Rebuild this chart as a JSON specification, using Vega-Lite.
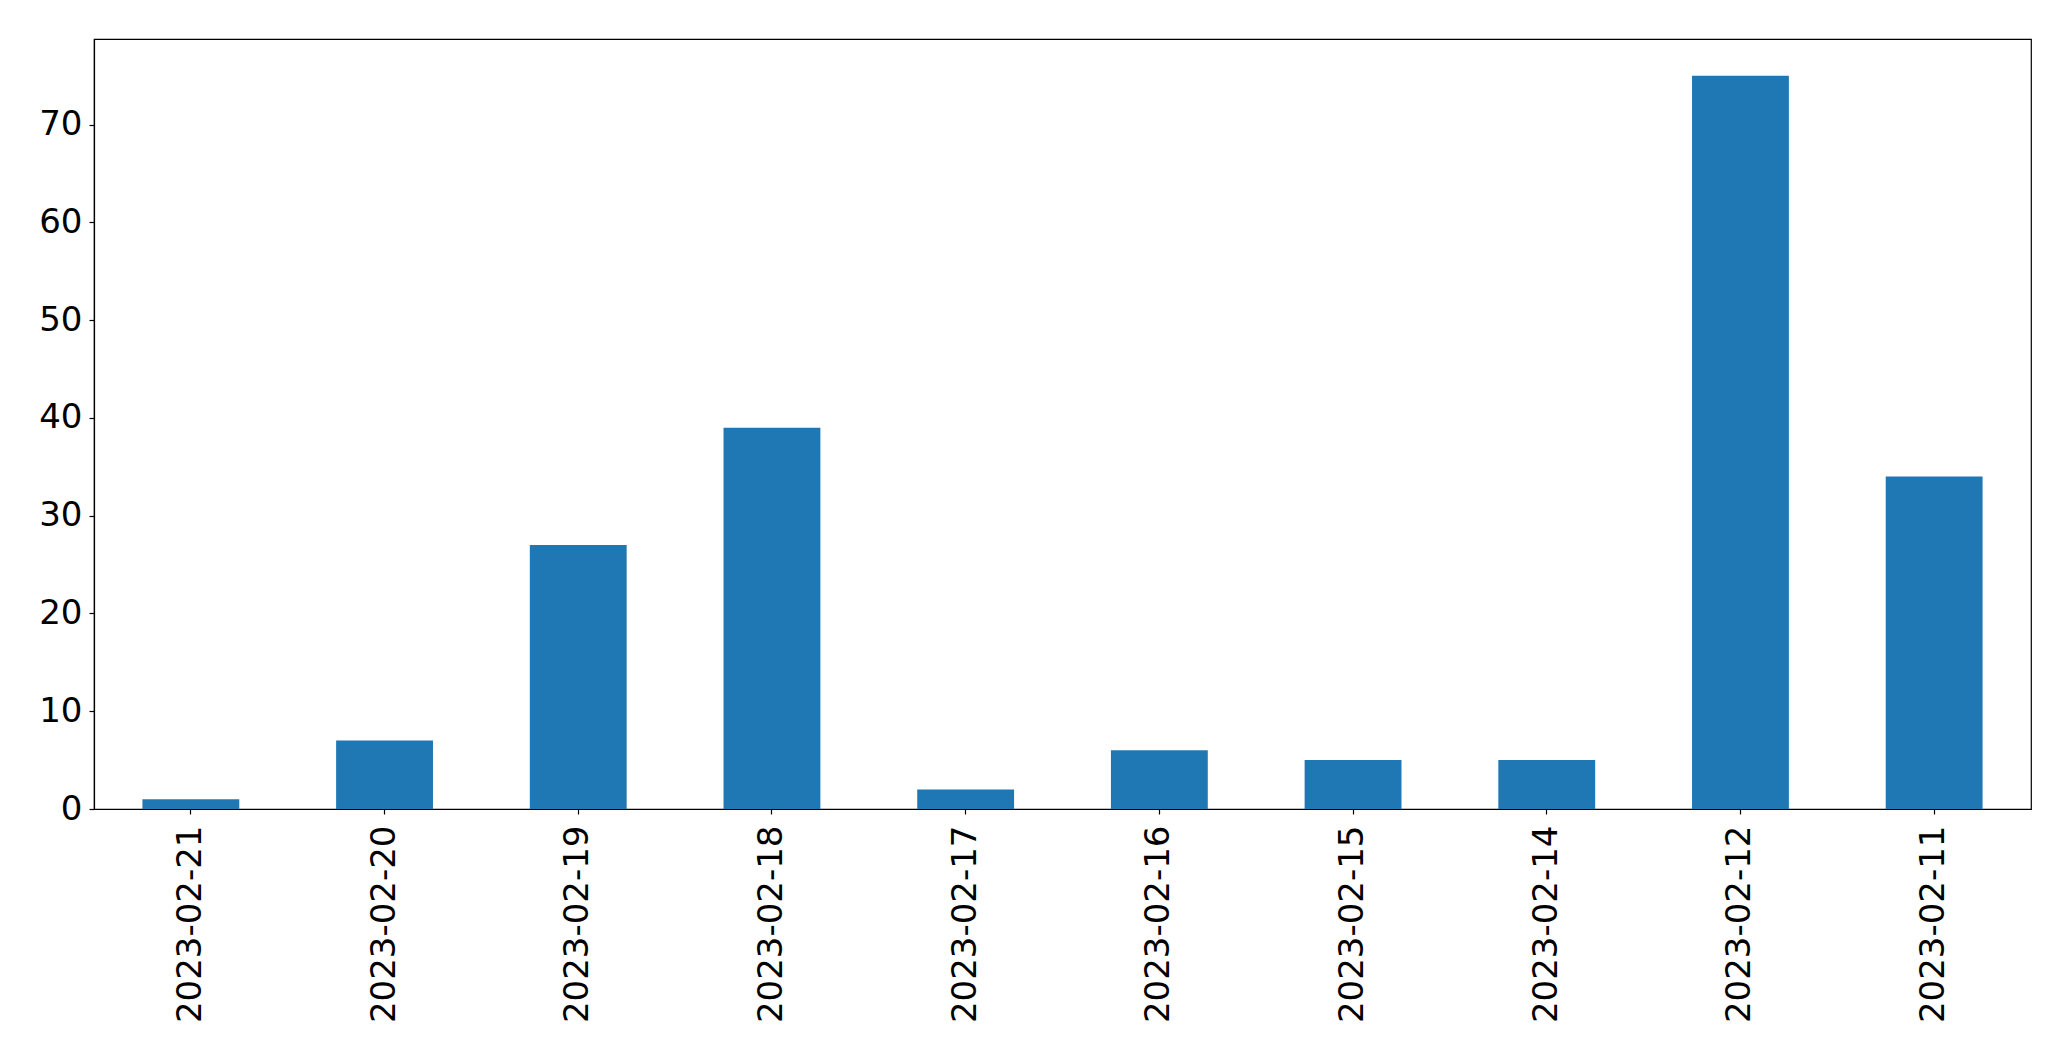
{
  "$schema": "https://vega.github.io/schema/vega-lite/v6.json",
  "autosize": "none",
  "width": 1937,
  "height": 770,
  "padding": {"left": 94, "top": 39, "right": 40, "bottom": 252},
  "background": "white",
  "data": {
    "values": [
      {"date": "2023-02-21", "count": 1},
      {"date": "2023-02-20", "count": 7},
      {"date": "2023-02-19", "count": 27},
      {"date": "2023-02-18", "count": 39},
      {"date": "2023-02-17", "count": 2},
      {"date": "2023-02-16", "count": 6},
      {"date": "2023-02-15", "count": 5},
      {"date": "2023-02-14", "count": 5},
      {"date": "2023-02-12", "count": 75},
      {"date": "2023-02-11", "count": 34}
    ]
  },
  "config": {
    "view": {"stroke": "black", "strokeWidth": 1.2},
    "axis": {
      "labelFont": "DejaVu Sans",
      "labelFontSize": 34,
      "labelColor": "black",
      "labelLimit": 0,
      "tickColor": "black",
      "tickSize": 5,
      "tickWidth": 1.2,
      "domainColor": "black",
      "domainWidth": 1.2,
      "grid": false,
      "title": null
    }
  },
  "mark": {"type": "bar", "color": "#1f77b4"},
  "encoding": {
    "x": {
      "field": "date",
      "type": "nominal",
      "sort": null,
      "scale": {"paddingInner": 0.5, "paddingOuter": 0.25},
      "axis": {"labelAngle": -90, "labelAlign": "right", "labelBaseline": "middle", "labelPadding": 11}
    },
    "y": {
      "field": "count",
      "type": "quantitative",
      "scale": {"domain": [0, 78.75], "nice": false},
      "axis": {"values": [0, 10, 20, 30, 40, 50, 60, 70], "labelPadding": 7}
    }
  }
}
